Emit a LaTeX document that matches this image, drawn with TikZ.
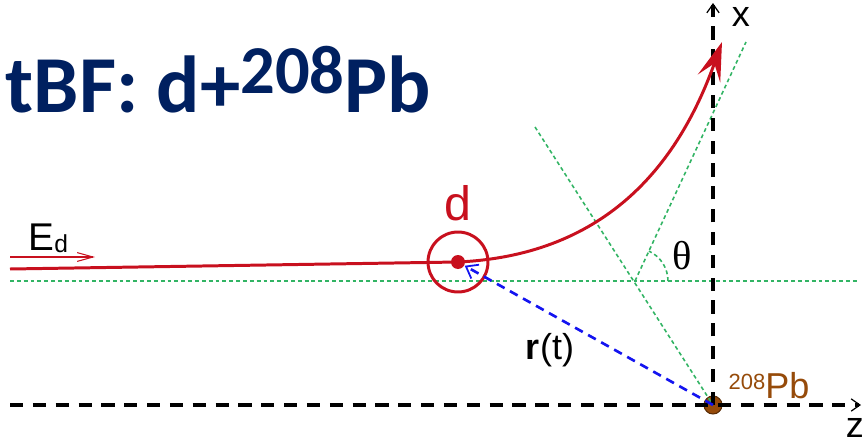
\documentclass[tikz,border=0pt]{standalone}
\usepackage{fontspec}
\setmainfont{Liberation Sans}
\newfontfamily\titlefont{Carlito}
\newfontfamily\greekfont{Liberation Serif}
\usetikzlibrary{arrows.meta,positioning}
\definecolor{trajred}{RGB}{200,16,30}
\definecolor{titleblue}{RGB}{0,32,96}
\definecolor{guidegreen}{RGB}{50,180,100}
\definecolor{leadbrown}{RGB}{150,75,10}
\definecolor{rblue}{RGB}{20,20,240}
\tikzset{
  axis/.style={line width=1.8pt,dash pattern=on 7.5pt off 5.5pt,-{Straight Barb[length=5pt,width=7pt,line width=0.7pt]}},
  guide/.style={guidegreen,line width=0.9pt,dash pattern=on 2.2pt off 1.7pt},
  txt/.style={inner sep=0pt,font=\fontsize{20.5pt}{20.5pt}\selectfont},
  dot/.style={circle,fill=trajred,inner sep=0pt,minimum size=0.28cm},
}

\begin{document}
\begin{tikzpicture}[x=0.02cm,y=-0.02cm,>={Stealth[round]},thick]
  \useasboundingbox (0,0) rectangle (867,443);
  \node[anchor=base west,inner sep=0pt,text=titleblue,font=\titlefont\bfseries\fontsize{46pt}{46pt}\selectfont] (title) at (5,112) {tBF: d+\raisebox{10.5pt}{\fontsize{39pt}{39pt}\selectfont 208}Pb};
  \coordinate (C) at (635,281);
  \coordinate (N) at (535,127);
  \coordinate (A) at (746,42);
  \coordinate (Hl) at (10,281);
  \coordinate (Hr) at (857,281);
  \coordinate (Zl) at (10,405);
  \coordinate (Zr) at (861,405);
  \coordinate (Xt) at (713,3);
  \coordinate (in) at (10,269);
  \coordinate (out) at (722,42);
  \coordinate (Ea) at (10,257);
  \coordinate (Eb) at (95,257);
  \draw[guide] (Hl) -- (Hr);
  \draw[guide] (C) -- (A);
  \draw[guide] ([xshift=0.66cm]C) arc[start angle=0,end angle=65,radius=0.66cm];
  \node[circle,fill=leadbrown,draw=leadbrown!60!black,line width=0.6pt,minimum size=0.36cm,inner sep=0pt] (Pb) at (713,405) {};
  \draw[guide] (N) -- (Pb.center);
  \draw[axis] (Zl) -- (Zr);
  \draw[axis] (Pb.center) -- (Xt);
  \node[circle,draw=trajred,line width=1.7pt,minimum size=1.2cm] (ring) at (458,262) {};
  \node[dot] (d) at (458,262) {};
  \draw[trajred,line width=1.7pt,-{Stealth[length=22pt,width=13.5pt,inset=9pt]}] (in) -- (d.center) .. controls (610,255) and (680,160) .. (out);
  \draw[trajred,line width=0.6pt,-{Straight Barb[length=9pt,width=5pt]}] (Ea) -- (Eb);
  \draw[rblue,line width=1.5pt,dash pattern=on 5pt off 3.5pt,-{Straight Barb[length=6pt,width=9pt,line width=1pt]}] (Pb.center) -- (d);
  \node[txt,anchor=base west] (Ed) at (28,250) {\fontsize{22pt}{22pt}\selectfont E\raisebox{-1.7pt}{\fontsize{14pt}{14pt}\selectfont d}};
  \node[txt,anchor=south,text=trajred,font=\fontsize{27.5pt}{27.5pt}\selectfont,above=5pt of ring] (dname) {d};
  \node[txt,anchor=base] (rt) at (550,359) {\textbf{r}(t)};
  \node[txt,anchor=base west,text=leadbrown] (Pbname) at (728,398) {\raisebox{5pt}{\fontsize{12.5pt}{12.5pt}\selectfont 208}Pb};
  \node[txt] (xname) at (741,17) {x};
  \node[txt] (zname) at (855,428) {z};
  \node[txt,font=\greekfont\fontsize{23pt}{23pt}\selectfont] (theta) at (682,256) {θ};
\end{tikzpicture}
\end{document}
